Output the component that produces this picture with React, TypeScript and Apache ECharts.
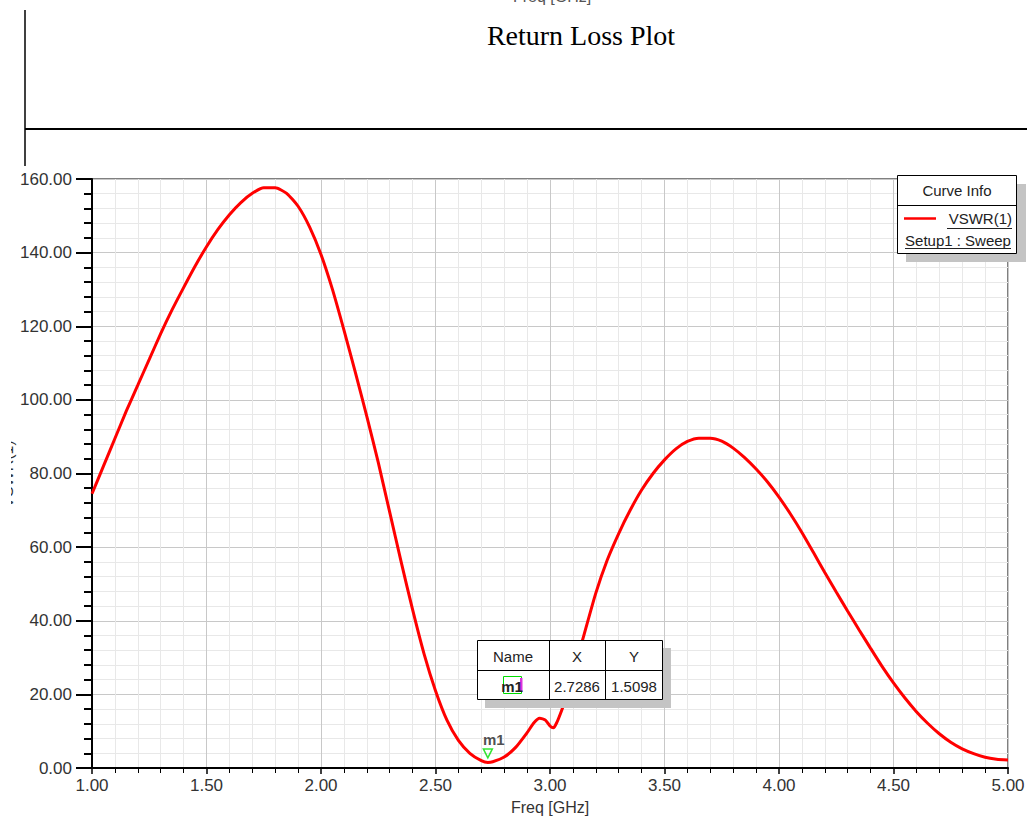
import React, { useEffect, useRef } from "react";
import * as echarts from "echarts";

const freq = [
  1.0, 1.05, 1.1, 1.15, 1.2, 1.25, 1.3, 1.35, 1.4, 1.45, 1.5, 1.55, 1.6, 1.65, 1.7, 1.75, 1.8, 1.85, 1.9, 1.95,
  2.0, 2.05, 2.1, 2.15, 2.2, 2.25, 2.3, 2.35, 2.4, 2.45, 2.5, 2.55, 2.6, 2.65, 2.7, 2.7286, 2.75, 2.8, 2.85, 2.9,
  2.93, 2.955, 2.98, 3.0, 3.015, 3.03, 3.05, 3.07, 3.1, 3.15, 3.2, 3.25, 3.3, 3.35, 3.4, 3.45, 3.5, 3.55, 3.6, 3.65,
  3.7, 3.75, 3.8, 3.85, 3.9, 3.95, 4.0, 4.05, 4.1, 4.15, 4.2, 4.25, 4.3, 4.35, 4.4, 4.45, 4.5, 4.55, 4.6, 4.65,
  4.7, 4.75, 4.8, 4.85, 4.9, 4.95, 5.0,
];
const vswr = [
  74.5, 82, 89.5, 97, 104, 111, 118, 124.5, 130.5, 136.3, 141.6, 146.3, 150.3, 153.6, 156.1, 157.6, 157.6, 156.1, 152.6, 147,
  139.5, 130, 119, 107.5, 95.5, 83, 69.5, 56, 43, 31, 21, 13, 7.5, 4, 2, 1.51, 1.7, 3, 5.6, 9.6,
  12.3, 13.5, 13, 11.4, 10.9, 12.4, 15.5, 19, 25.5, 36.5, 47.5, 56.5, 63.7, 70, 75.5, 80, 83.7, 86.7, 88.7, 89.6,
  89.6, 88.8, 86.9, 84.3, 81.2, 77.7, 73.6, 69, 64, 58.6, 53.1, 47.8, 42.6, 37.5, 32.5, 27.6, 23.1, 19, 15.3, 12.1,
  9.3, 7, 5.2, 3.9, 2.9, 2.4, 2.2,
];
const markerNames = ["m1"];
const markerX = [2.7286];
const markerY = [1.5098];
const tableHeaders = ["Name", "X", "Y"];
const legendTitle = "Curve Info";
const legendSeries = "VSWR(1)";
const legendSetup = "Setup1 : Sweep";
const titleText = "Return Loss Plot";
const xName = "Freq [GHz]";
const yName = "VSWR(1)";

const SANS = "'Liberation Sans', Arial, sans-serif";
const SERIF = "'Liberation Serif', 'Times New Roman', serif";

export default function App() {
  const ref = useRef<HTMLDivElement>(null);
  useEffect(() => {
    if (!ref.current) return;
    const chart = echarts.init(ref.current, undefined, { renderer: "svg" });
    const lineData = freq.map((f, i) => [f, vswr[i]]);
    const markData = markerX.map((x, i) => [x, markerY[i]]);

    const txt = (x: number, y: number, text: string, extra: any = {}) => ({
      type: "text",
      x,
      y,
      z: 20,
      style: {
        text,
        fontFamily: SANS,
        fontSize: 15,
        fill: "#222",
        align: "center",
        verticalAlign: "middle",
        ...extra,
      },
    });

    const graphics: any[] = [
      // top clipped axis name of previous plot
      txt(552, 4, xName, { verticalAlign: "bottom", fontSize: 16, fill: "#555" }),
      // frame lines
      { type: "line", z: 20, shape: { x1: 25, y1: 10, x2: 25, y2: 166 }, style: { stroke: "#000", lineWidth: 1.5 } },
      { type: "line", z: 20, shape: { x1: 25, y1: 129, x2: 1027, y2: 129 }, style: { stroke: "#000", lineWidth: 2 } },
      // title
      txt(581, 35, titleText, { fontFamily: SERIF, fontSize: 28, fill: "#000" }),
      // y axis name (mostly clipped)
      {
        type: "text",
        x: 15,
        y: 474,
        rotation: Math.PI / 2,
        z: 5,
        style: { text: yName, fontFamily: SANS, fontSize: 16, fill: "#333", align: "center", verticalAlign: "bottom" },
      },
      { type: "rect", z: 6, shape: { x: 0, y: 420, width: 11, height: 110 }, style: { fill: "#fff" } },
      // legend box
      { type: "rect", z: 18, shape: { x: 906, y: 184, width: 120, height: 78 }, style: { fill: "#c4c4c4" } },
      { type: "rect", z: 19, shape: { x: 897.5, y: 175.5, width: 119, height: 78 }, style: { fill: "#fff", stroke: "#000", lineWidth: 1 } },
      { type: "line", z: 20, shape: { x1: 897.5, y1: 205.5, x2: 1016.5, y2: 205.5 }, style: { stroke: "#000", lineWidth: 1 } },
      txt(957, 190, legendTitle),
      { type: "line", z: 20, shape: { x1: 904, y1: 218.5, x2: 936, y2: 218.5 }, style: { stroke: "#ff0000", lineWidth: 2.5 } },
      txt(1012, 218, legendSeries, { align: "right" }),
      { type: "line", z: 20, shape: { x1: 947, y1: 228.5, x2: 1012, y2: 228.5 }, style: { stroke: "#222", lineWidth: 1 } },
      txt(958, 240, legendSetup),
      { type: "line", z: 20, shape: { x1: 905, y1: 248.5, x2: 1011, y2: 248.5 }, style: { stroke: "#222", lineWidth: 1 } },
      // marker table
      { type: "rect", z: 18, shape: { x: 485, y: 648, width: 186, height: 60 }, style: { fill: "#c4c4c4" } },
      { type: "rect", z: 19, shape: { x: 477.5, y: 640.5, width: 185, height: 59 }, style: { fill: "#fff", stroke: "#000", lineWidth: 1 } },
      { type: "line", z: 20, shape: { x1: 477.5, y1: 670.5, x2: 662.5, y2: 670.5 }, style: { stroke: "#000", lineWidth: 1 } },
      { type: "line", z: 20, shape: { x1: 549.5, y1: 640.5, x2: 549.5, y2: 699.5 }, style: { stroke: "#000", lineWidth: 1 } },
      { type: "line", z: 20, shape: { x1: 605.5, y1: 640.5, x2: 605.5, y2: 699.5 }, style: { stroke: "#000", lineWidth: 1 } },
      txt(513, 656, tableHeaders[0]),
      txt(577, 656, tableHeaders[1]),
      txt(634, 656, tableHeaders[2]),
      { type: "rect", z: 20, shape: { x: 503.5, y: 676.5, width: 18, height: 17 }, style: { fill: "none", stroke: "#00dd00", lineWidth: 1 } },
      { type: "rect", z: 20, shape: { x: 520, y: 678, width: 2.5, height: 14 }, style: { fill: "#dd33dd" } },
      txt(512, 686, markerNames[0], { fontWeight: "bold" }),
      txt(577, 686, markerX[0].toFixed(4)),
      txt(634, 686, markerY[0].toFixed(4)),
    ];

    chart.setOption({
      animation: false,
      backgroundColor: "#fff",
      grid: {
        left: 92,
        right: 19,
        top: 179,
        bottom: 54,
        outerBoundsMode: "none",
        containLabel: false,
        show: true,
        borderColor: "#000",
        borderWidth: 1,
        backgroundColor: "transparent",
      },
      xAxis: {
        type: "value",
        min: 1,
        max: 5,
        interval: 0.5,
        name: xName,
        nameLocation: "middle",
        nameGap: 31,
        nameTextStyle: { fontFamily: SANS, fontSize: 16, color: "#333" },
        axisLine: { show: true, lineStyle: { color: "#000", width: 2 } },
        axisTick: { show: true, length: 6, lineStyle: { color: "#000", width: 1.5 } },
        minorTick: { show: true, splitNumber: 5, length: 5, lineStyle: { color: "#000", width: 1 } },
        splitLine: { show: true, lineStyle: { color: "#c8c8c8", width: 1 } },
        minorSplitLine: { show: true, lineStyle: { color: "#e8e8e8", width: 1 } },
        axisLabel: {
          fontFamily: SANS,
          fontSize: 17,
          color: "#333",
          margin: 9,
          showMaxLabel: true,
          showMinLabel: true,
          formatter: (v: number) => v.toFixed(2),
        },
      },
      yAxis: {
        type: "value",
        min: 0,
        max: 160,
        interval: 20,
        axisLine: { show: true, lineStyle: { color: "#000", width: 2 } },
        axisTick: { show: true, length: 16, lineStyle: { color: "#000", width: 2 } },
        minorTick: { show: true, splitNumber: 5, length: 8, lineStyle: { color: "#000", width: 2 } },
        splitLine: { show: true, lineStyle: { color: "#c8c8c8", width: 1 } },
        minorSplitLine: { show: true, lineStyle: { color: "#e8e8e8", width: 1 } },
        axisLabel: {
          fontFamily: SANS,
          fontSize: 17,
          color: "#333",
          margin: 20,
          formatter: (v: number) => v.toFixed(2),
        },
      },
      series: [
        {
          type: "line",
          data: lineData,
          showSymbol: false,
          smooth: 0.2,
          lineStyle: { color: "#ff0000", width: 3 },
          z: 3,
        },
        {
          type: "scatter",
          data: markData,
          symbol: "triangle",
          symbolRotate: 180,
          symbolSize: [9, 9],
          symbolOffset: [0, -9],
          itemStyle: { color: "rgba(255,255,255,0)", borderColor: "#00dd00", borderWidth: 1.5 },
          label: {
            show: true,
            position: "top",
            distance: 1,
            offset: [6, 0],
            formatter: (p: any) => markerNames[p.dataIndex],
            fontFamily: SANS,
            fontWeight: "bold",
            fontSize: 15,
            color: "#222",
          },
          z: 4,
        },
      ],
      graphic: graphics,
    });
    return () => chart.dispose();
  }, []);
  return <div ref={ref} style={{ position: "absolute", left: 0, top: 0, width: 1027, height: 822 }} />;
}
